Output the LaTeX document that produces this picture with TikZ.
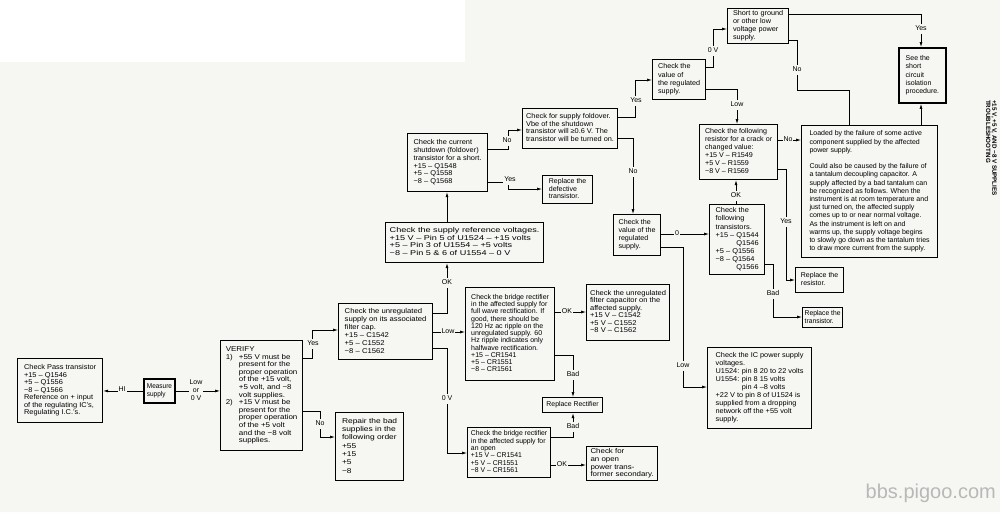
\documentclass[tikz,border=0pt]{standalone}
\usepackage{fontspec}
\setmainfont{Liberation Sans}
\usepackage{graphicx}
\usetikzlibrary{arrows.meta}
\definecolor{paper}{RGB}{246,246,243}
\newcommand\bt[3]{\scalebox{#1}[1]{\fontsize{7}{#2}\selectfont\begin{tabular}{@{}l@{}}#3\end{tabular}}}
\newcommand\lb[1]{\fontsize{7}{7.6}\selectfont\begin{tabular}{@{}c@{}}#1\end{tabular}}
\begin{document}
\begin{tikzpicture}[x=1pt,y=-1pt,
  box/.style={draw, line width=1.2pt, anchor=north west, inner sep=0pt},
  thick box/.style={box, line width=1.9pt},
  conn/.style={line width=0.7pt},
  arr/.style={conn, -{Latex[length=5pt,width=3pt]}},
  lbl/.style={fill=paper, inner sep=1pt}]

\useasboundingbox (0,0) rectangle (1000,512);
\fill[white] (0,0) rectangle (1000,512);
\fill[paper] (0,62) -- (465,62) -- (465,0) -- (1000,0) -- (1000,512) -- (0,512) -- cycle;

% ---------- boxes ----------
\node[box, minimum width=85, minimum height=64] (pass) at (17,358)
  {\bt{1.06}{7.5}{Check Pass transistor\\+15 – Q1546\\+5 – Q1556\\−8 – Q1566\\Reference on + input\\of the regulating IC’s,\\Regulating I.C.’s.}};
\node[thick box, minimum width=31, minimum height=24] (measure) at (143,378)
  {\bt{0.92}{7.6}{Measure\\supply}};
\node[box, minimum width=82, minimum height=110] (verify) at (220,340)
  {\bt{1.14}{7.6}{VERIFY\\
  \makebox[11.5pt][l]{1)}+55 V must be\\
  \hspace*{11.5pt}present for the\\
  \hspace*{11.5pt}proper operation\\
  \hspace*{11.5pt}of the +15 volt,\\
  \hspace*{11.5pt}+5 volt, and −8\\
  \hspace*{11.5pt}volt supplies.\\
  \makebox[11.5pt][l]{2)}+15 V must be\\
  \hspace*{11.5pt}present for the\\
  \hspace*{11.5pt}proper operation\\
  \hspace*{11.5pt}of the +5 volt\\
  \hspace*{11.5pt}and the −8 volt\\
  \hspace*{11.5pt}supplies.}};
\node[box, minimum width=94, minimum height=56] (unreg) at (338,303)
  {\bt{1.1}{8}{Check the unregulated\\supply on its associated\\filter cap.\\+15 – C1542\\+5 – C1552\\−8 – C1562}};
\node[box, minimum width=68, minimum height=68] (repair) at (335,412)
  {\bt{1.2}{8.3}{Repair the bad\\supplies in the\\following order\\+55\\+15\\+5\\−8}};
\node[box, minimum width=158, minimum height=40] (refv) at (385,222)
  {\bt{1.3}{7.4}{Check the supply reference voltages.\\+15 V – Pin 5 of U1524 – +15 volts\\+5 – Pin 3 of U1554 – +5 volts\\−8 – Pin 5 \& 6 of U1554 – 0 V}};
\node[box, minimum width=80, minimum height=58] (shutdown) at (407,133)
  {\bt{1.06}{7.8}{Check the current\\shutdown (foldover)\\transistor for a short.\\+15 – Q1548\\+5 – Q1558\\−8 – Q1568}};
\node[box, minimum width=95, minimum height=40] (foldover) at (522,108)
  {\bt{1.05}{7.6}{Check for supply foldover.\\Vbe of the shutdown\\transistor will ≥0.6 V. The\\transistor will be turned on.}};
\node[box, minimum width=50, minimum height=28] (repldef) at (542,175)
  {\bt{1.0}{7.8}{Replace the\\defective\\transistor.}};
\node[box, minimum width=89, minimum height=93] (bridge1) at (465,287)
  {\bt{1.0}{7.2}{Check the bridge rectifier\\in the affected supply for\\full wave rectification.  If\\good, there should be\\120 Hz ac ripple on the\\unregulated supply.  60\\Hz ripple indicates only\\halfwave rectification.\\+15 – CR1541\\+5 – CR1551\\−8 – CR1561}};
\node[box, minimum width=83, minimum height=56] (filtercap) at (586,284)
  {\bt{1.08}{7.4}{Check the unregulated\\filter capacitor on the\\affected supply.\\+15 V – C1542\\+5 V – C1552\\−8 V – C1562}};
\node[box, minimum width=60, minimum height=15] (replrect) at (542,397)
  {\bt{0.98}{7.6}{Replace Rectifier}};
\node[box, minimum width=83, minimum height=50] (bridge2) at (467,427)
  {\bt{0.98}{7.3}{Check the bridge rectifier\\in the affected supply for\\an open\\+15 V – CR1541\\+5 V – CR1551\\−8 V – CR1561}};
\node[box, minimum width=71, minimum height=34] (checkfor) at (586,446)
  {\bt{1.13}{7.8}{Check for\\an open\\power trans-\\former secondary.}};
\node[box, minimum width=53, minimum height=40] (value1) at (652,59)
  {\bt{1.03}{8.3}{Check the\\value of\\the regulated\\supply.}};
\node[box, minimum width=61, minimum height=35] (short) at (727,8)
  {\bt{1.04}{8}{Short to ground\\or other low\\voltage power\\supply.}};
\node[thick box, minimum width=47, minimum height=55] (see) at (898,47)
  {\bt{1.0}{8.3}{See the\\short\\circuit\\isolation\\procedure.}};
\node[box, minimum width=78, minimum height=55] (resistor) at (699,124)
  {\bt{1.02}{7.9}{Check the following\\resistor for a crack or\\changed value:\\+15 V – R1549\\+5 V – R1559\\−8 V – R1569}};
\node[box, minimum width=47, minimum height=41] (value2) at (613,214)
  {\bt{1.02}{8.1}{Check the\\value of the\\regulated\\supply.}};
\node[box, minimum width=55, minimum height=70] (transistors) at (709,204)
  {\bt{1.06}{8.1}{Check the\\following\\transistors.\\+15 – Q1544\\\phantom{+15 – }Q1546\\+5 – Q1556\\−8 – Q1564\\\phantom{+15 – }Q1566}};
\node[box, minimum width=104, minimum height=81] (ic) at (707,347)
  {\bt{1.05}{8}{Check the  IC power supply\\voltages.\\\makebox[25pt][l]{U1524:}pin 8 20 to 22 volts\\\makebox[25pt][l]{U1554:}pin 8 15 volts\\\hspace*{25pt}pin 4 –8 volts\\+22 V to pin 8 of U1524 is\\supplied from a dropping\\network off the +55 volt\\supply.}};
\node[box, minimum width=136, minimum height=132] (loaded) at (801,125)
  {\bt{1.0}{8.2}{Loaded by the failure of some active\\component supplied by the affected\\power supply.\\ \\Could also be caused by the failure of\\a tantalum decoupling capacitor.  A\\supply affected by a bad tantalum can\\be recognized as follows.  When the\\instrument is at room temperature and\\just turned on, the affected supply\\comes up to or near normal voltage.\\As the instrument is left on and\\warms up, the supply voltage begins\\to slowly go down as the tantalum tries\\to draw more current from the supply.}};
\node[box, minimum width=48, minimum height=25] (replres) at (795,267)
  {\bt{1.0}{8}{Replace the\\resistor.}};
\node[box, minimum width=40, minimum height=20] (repltr) at (802,307)
  {\bt{0.96}{8}{Replace the\\transistor.}};

% ---------- connectors ----------
\draw[arr] (measure.west) -- (pass.east |- measure.west);
\draw[arr] (measure.east) -- (verify.west |- measure.east);
\draw[arr] (verify.east |- 0,358) -| (312,330) -- (unreg.west |- 0,330);
\draw[arr] (verify.east |- 0,411) -| (320,437) -- (repair.west |- 0,437);
\draw[arr] (unreg.east |- 0,332) -- (bridge1.west |- 0,332);
\draw[arr] (unreg.east |- 0,313) -| (refv.south -| 447,0);
\draw[arr] (unreg.east |- 0,348) -| (447,453) -- (bridge2.west |- 0,453);
\draw[arr] (refv.north -| 447,0) -- (shutdown.south -| 447,0);
\draw[arr] (shutdown.east |- 0,149) -| (508,130) -- (foldover.west |- 0,130);
\draw[arr] (shutdown.east |- 0,182) -| (508,189) -- (repldef.west |- 0,189);
\draw[arr] (foldover.east |- 0,117) -| (635,80) -- (value1.west |- 0,80);
\draw[arr] (foldover.east |- 0,138) -| (value2.north -| 633,0);
\draw[arr] (value2.east |- 0,234) -- (transistors.west |- 0,234);
\draw[arr] (value2.east |- 0,247) -| (683,387) -- (ic.west |- 0,387);
\draw[arr] (value1.east |- 0,67) -| (713,29) -- (short.west |- 0,29);
\draw[arr] (value1.east |- 0,89) -| (resistor.north -| 737,0);
\draw[arr] (short.east |- 0,14) -| (see.north -| 921,0);
\draw[conn] (short.east |- 0,40) -| (797,90) -| (loaded.north -| 849,0);
\draw[arr] (loaded.north -| 921,0) -- (see.south -| 921,0);
\draw[arr] (resistor.east |- 0,140) -- (loaded.west |- 0,140);
\draw[arr] (transistors.north -| 736,0) -- (resistor.south -| 736,0);
\draw[arr] (resistor.east |- 0,169) -| (786,280) -- (replres.west |- 0,280);
\draw[arr] (transistors.east |- 0,264) -| (773,317) -- (repltr.west |- 0,317);
\draw[arr] (bridge1.east |- 0,312) -- (filtercap.west |- 0,312);
\draw[arr] (bridge1.east |- 0,355) -| (replrect.north -| 573,0);
\draw[arr] (bridge2.east |- 0,437) -| (replrect.south -| 573,0);
\draw[arr] (bridge2.east |- 0,465) -- (checkfor.west |- 0,465);

% ---------- labels ----------
\node[lbl] (l1) at (122,390) {\lb{HI}};
\node[lbl] (l2) at (196,391) {\lb{Low\\or\\0 V}};
\node[lbl] (l3) at (313,344) {\lb{Yes}};
\node[lbl] (l4) at (320,424) {\lb{No}};
\node[lbl] (l5) at (448,332) {\lb{Low}};
\node[lbl] (l6) at (447,283) {\lb{OK}};
\node[lbl] (l7) at (447,399) {\lb{0 V}};
\node[lbl] (l8) at (507,141) {\lb{No}};
\node[lbl] (l9) at (510,180) {\lb{Yes}};
\node[lbl] (l10) at (636,101) {\lb{Yes}};
\node[lbl] (l11) at (633,172) {\lb{No}};
\node[lbl] (l12) at (677,234) {\lb{0}};
\node[lbl] (l13) at (683,366) {\lb{Low}};
\node[lbl] (l14) at (713,51) {\lb{0 V}};
\node[lbl] (l15) at (737,105) {\lb{Low}};
\node[lbl] (l16) at (921,29) {\lb{Yes}};
\node[lbl] (l17) at (797,70) {\lb{No}};
\node[lbl] (l18) at (788,140) {\lb{No}};
\node[lbl] (l19) at (736,196) {\lb{OK}};
\node[lbl] (l20) at (786,222) {\lb{Yes}};
\node[lbl] (l21) at (773,294) {\lb{Bad}};
\node[lbl] (l22) at (567,312) {\lb{OK}};
\node[lbl] (l23) at (573,375) {\lb{Bad}};
\node[lbl] (l24) at (573,427) {\lb{Bad}};
\node[lbl] (l25) at (562,465) {\lb{OK}};

% ---------- side title and watermark ----------
\node[rotate=-90, anchor=north west, inner sep=0pt, align=left,
      font=\fontsize{6.2}{6.4}\selectfont\bfseries] (side) at (997,100)
  {+15 V, +5 V, AND −8 V SUPPLIES\\TROUBLESHOOTING};
\node[anchor=base east, inner sep=0pt, text=black!28,
      font=\fontsize{20}{20}\selectfont] (wm) at (996,498) {bbs.pigoo.com};
\end{tikzpicture}
\end{document}
